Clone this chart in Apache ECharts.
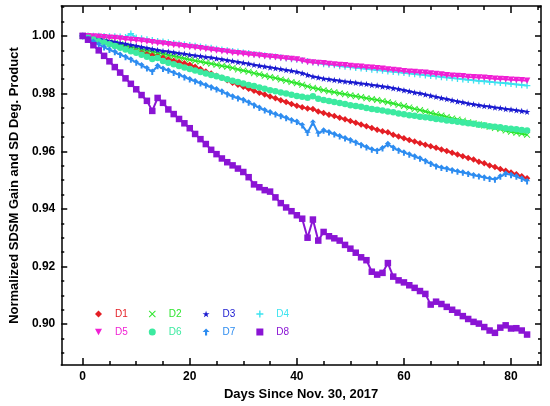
<!DOCTYPE html>
<html>
<head>
<meta charset="utf-8">
<script src="https://cdn.jsdelivr.net/npm/echarts@6/dist/echarts.min.js"></script>
<style>
html,body{margin:0;padding:0;background:#fff;}
#chart{width:550px;height:406px;}
</style>
</head>
<body>
<div id="chart"></div>
<script>
// ---- data ----
var seriesNames = ['D1','D2','D3','D4','D5','D6','D7','D8'];
var xMajorTicks = [0, 20, 40, 60, 80];
var yMajorTicks = [0.90, 0.92, 0.94, 0.96, 0.98, 1.00];
var xTitle = 'Days Since Nov. 30, 2017';
var yTitle = 'Normalized SDSM Gain and SD Deg. Product';

var days = [0,1,2,3,4,5,6,7,8,9,10,11,12,13,14,15,16,17,18,19,20,21,22,23,24,25,26,27,28,29,30,31,32,33,34,35,36,37,38,39,40,41,42,43,44,45,46,47,48,49,50,51,52,53,54,55,56,57,58,59,60,61,62,63,64,65,66,67,68,69,70,71,72,73,74,75,76,77,78,79,80,81,82,83];

var D1 = [1.0000,0.9995,0.9990,0.9984,0.9979,0.9973,0.9968,0.9963,0.9958,0.9953,0.9948,0.9944,0.9939,0.9934,0.9932,0.9925,0.9919,0.9914,0.9910,0.9905,
0.9900,0.9893,0.9885,0.9877,0.9870,0.9862,0.9855,0.9846,0.9838,0.9831,0.9824,0.9817,0.9810,0.9803,0.9797,0.9790,0.9784,0.9777,0.9771,0.9764,
0.9758,0.9753,0.9748,0.9747,0.9738,0.9733,0.9727,0.9722,0.9716,0.9711,0.9705,0.9699,0.9693,0.9687,0.9681,0.9675,0.9669,0.9666,0.9657,0.9651,
0.9645,0.9639,0.9634,0.9628,0.9623,0.9617,0.9612,0.9606,0.9601,0.9595,0.9589,0.9583,0.9577,0.9571,0.9564,0.9558,0.9551,0.9545,0.9538,0.9532,
0.9526,0.9520,0.9513,0.9506];

var D2 = [1.0000,0.9996,0.9992,0.9988,0.9983,0.9979,0.9975,0.9971,0.9967,0.9962,0.9958,0.9954,0.9950,0.9946,0.9942,0.9938,0.9934,0.9930,0.9926,0.9922,
0.9918,0.9914,0.9911,0.9907,0.9904,0.9900,0.9896,0.9893,0.9889,0.9884,0.9880,0.9876,0.9871,0.9867,0.9862,0.9858,0.9854,0.9849,0.9845,0.9840,
0.9836,0.9831,0.9825,0.9820,0.9816,0.9812,0.9808,0.9805,0.9801,0.9798,0.9794,0.9791,0.9788,0.9784,0.9781,0.9778,0.9774,0.9770,0.9766,0.9761,
0.9757,0.9752,0.9747,0.9743,0.9738,0.9733,0.9728,0.9724,0.9719,0.9714,0.9710,0.9706,0.9701,0.9697,0.9693,0.9689,0.9685,0.9681,0.9677,0.9672,
0.9668,0.9664,0.9661,0.9657];

var D3 = [1.0000,0.9997,0.9993,0.9990,0.9987,0.9983,0.9980,0.9976,0.9973,0.9969,0.9966,0.9962,0.9958,0.9955,0.9951,0.9948,0.9946,0.9943,0.9940,0.9938,
0.9935,0.9932,0.9930,0.9927,0.9925,0.9922,0.9919,0.9916,0.9913,0.9910,0.9907,0.9904,0.9900,0.9897,0.9894,0.9891,0.9888,0.9885,0.9882,0.9879,
0.9876,0.9871,0.9865,0.9859,0.9856,0.9852,0.9850,0.9847,0.9845,0.9842,0.9840,0.9838,0.9835,0.9833,0.9830,0.9828,0.9825,0.9823,0.9819,0.9816,
0.9812,0.9808,0.9804,0.9801,0.9797,0.9793,0.9789,0.9785,0.9781,0.9777,0.9773,0.9770,0.9766,0.9763,0.9760,0.9757,0.9755,0.9752,0.9750,0.9747,
0.9745,0.9742,0.9740,0.9737];

var D4 = [1.0000,1.0001,1.0000,1.0000,0.9999,0.9998,0.9998,0.9997,0.9996,1.0008,0.9994,0.9991,0.9988,0.9985,0.9982,0.9980,0.9977,0.9975,0.9972,0.9970,
0.9968,0.9965,0.9963,0.9960,0.9958,0.9955,0.9952,0.9950,0.9947,0.9945,0.9942,0.9940,0.9937,0.9935,0.9932,0.9930,0.9928,0.9925,0.9923,0.9920,
0.9918,0.9915,0.9912,0.9909,0.9906,0.9903,0.9901,0.9899,0.9896,0.9894,0.9892,0.9890,0.9888,0.9886,0.9884,0.9882,0.9880,0.9878,0.9876,0.9874,
0.9872,0.9870,0.9868,0.9866,0.9864,0.9862,0.9860,0.9858,0.9856,0.9854,0.9852,0.9850,0.9848,0.9846,0.9844,0.9843,0.9841,0.9839,0.9838,0.9836,
0.9834,0.9832,0.9830,0.9828];

var D5 = [1.0000,0.9999,0.9998,0.9997,0.9996,0.9994,0.9993,0.9991,0.9989,0.9987,0.9985,0.9983,0.9981,0.9978,0.9976,0.9974,0.9971,0.9969,0.9967,0.9964,
0.9962,0.9960,0.9957,0.9955,0.9952,0.9950,0.9947,0.9945,0.9942,0.9940,0.9938,0.9936,0.9934,0.9932,0.9930,0.9928,0.9926,0.9924,0.9922,0.9920,
0.9918,0.9914,0.9910,0.9908,0.9906,0.9905,0.9903,0.9901,0.9899,0.9898,0.9896,0.9894,0.9893,0.9891,0.9890,0.9888,0.9886,0.9884,0.9882,0.9880,
0.9878,0.9876,0.9875,0.9873,0.9872,0.9870,0.9868,0.9866,0.9864,0.9862,0.9861,0.9860,0.9858,0.9857,0.9856,0.9855,0.9853,0.9852,0.9851,0.9850,
0.9848,0.9847,0.9846,0.9845];

var D6 = [1.0000,0.9994,0.9988,0.9982,0.9977,0.9971,0.9965,0.9959,0.9953,0.9947,0.9942,0.9935,0.9928,0.9920,0.9924,0.9913,0.9907,0.9902,0.9896,0.9891,
0.9885,0.9880,0.9875,0.9870,0.9865,0.9860,0.9855,0.9850,0.9845,0.9840,0.9835,0.9830,0.9826,0.9821,0.9817,0.9812,0.9808,0.9804,0.9800,0.9796,
0.9792,0.9789,0.9786,0.9791,0.9782,0.9778,0.9774,0.9771,0.9767,0.9764,0.9760,0.9757,0.9754,0.9750,0.9747,0.9744,0.9741,0.9738,0.9735,0.9731,
0.9728,0.9725,0.9723,0.9720,0.9718,0.9715,0.9712,0.9710,0.9707,0.9705,0.9702,0.9700,0.9697,0.9695,0.9692,0.9690,0.9687,0.9685,0.9683,0.9680,
0.9678,0.9676,0.9674,0.9672];

var D7 = [1.0000,0.9990,0.9980,0.9970,0.9961,0.9952,0.9944,0.9935,0.9927,0.9918,0.9908,0.9898,0.9888,0.9876,0.9896,0.9886,0.9880,0.9872,0.9865,0.9857,
0.9850,0.9843,0.9836,0.9829,0.9822,0.9815,0.9807,0.9798,0.9790,0.9784,0.9778,0.9769,0.9760,0.9751,0.9742,0.9735,0.9728,0.9722,0.9715,0.9708,
0.9702,0.9690,0.9664,0.9700,0.9662,0.9672,0.9666,0.9659,0.9652,0.9645,0.9638,0.9630,0.9622,0.9614,0.9606,0.9602,0.9610,0.9625,0.9612,0.9603,
0.9596,0.9589,0.9582,0.9575,0.9566,0.9557,0.9548,0.9543,0.9539,0.9534,0.9530,0.9526,0.9522,0.9517,0.9513,0.9509,0.9505,0.9502,0.9512,0.9522,
0.9518,0.9512,0.9505,0.9496];

var D8 = [1.0000,0.9987,0.9968,0.9950,0.9931,0.9912,0.9892,0.9873,0.9853,0.9834,0.9815,0.9795,0.9775,0.9740,0.9785,0.9768,0.9745,0.9729,0.9712,0.9697,
0.9680,0.9660,0.9642,0.9625,0.9605,0.9590,0.9575,0.9562,0.9551,0.9540,0.9528,0.9510,0.9485,0.9475,0.9465,0.9460,0.9440,0.9420,0.9405,0.9392,
0.9378,0.9366,0.9300,0.9363,0.9290,0.9320,0.9305,0.9298,0.9290,0.9275,0.9262,0.9248,0.9232,0.9222,0.9182,0.9172,0.9178,0.9212,0.9165,0.9152,
0.9145,0.9135,0.9126,0.9115,0.9105,0.9068,0.9078,0.9070,0.9060,0.9050,0.9040,0.9028,0.9018,0.9008,0.9002,0.8990,0.8978,0.8970,0.8988,0.8996,
0.8985,0.8986,0.8978,0.8964];

var values = [D1, D2, D3, D4, D5, D6, D7, D8];

// ---- styling ----
var colors = ['#e41e24', '#2ee62e', '#1a1ad0', '#3ce4f0', '#f020d4', '#3ceaa0', '#2d8cf0', '#8a14d4'];
var symbols = [
  'diamond',
  'path://M1,0 L5,4 L9,0 L10,1 L6,5 L10,9 L9,10 L5,6 L1,10 L0,9 L4,5 L0,1 Z',
  'path://M5,0 L6.2,3.6 L10,3.6 L6.9,5.9 L8.1,9.5 L5,7.3 L1.9,9.5 L3.1,5.9 L0,3.6 L3.8,3.6 Z',
  'path://M4,0 L6,0 L6,4 L10,4 L10,6 L6,6 L6,10 L4,10 L4,6 L0,6 L0,4 L4,4 Z',
  'path://M0,0 L10,0 L5,9 Z',
  'circle',
  'path://M5,0 L10,5 L6.5,5 L6.5,10 L3.5,10 L3.5,5 L0,5 Z',
  'rect'
];

var xMinor = [], yMinor = [];
for (var t = 0; t <= 85; t += 5) { if (t % 20 !== 0) xMinor.push(t); }
for (var k = 178; k <= 202; k++) { if (k % 4 !== 0) yMinor.push(k * 0.005); }

var xMin = -4, xMax = 85.6, yMin = 0.8858, yMax = 1.0104;
var font = 'Liberation Sans, Arial, sans-serif';

function xAx(pos, ticks, len, showLine, showLabel) {
  return {
    type: 'value', position: pos, min: xMin, max: xMax,
    axisLine: { show: showLine, onZero: false, lineStyle: { color: '#000', width: 1.5 } },
    axisTick: { show: true, inside: true, length: len, customValues: ticks, lineStyle: { color: '#000', width: 1.5 } },
    axisLabel: showLabel ? { show: true, customValues: ticks, margin: 6, color: '#000', fontSize: 12, fontWeight: 'bold', fontFamily: font } : { show: false },
    splitLine: { show: false }
  };
}
function yAx(pos, ticks, len, showLine, showLabel) {
  return {
    type: 'value', position: pos, min: yMin, max: yMax,
    axisLine: { show: showLine, onZero: false, lineStyle: { color: '#000', width: 1.5 } },
    axisTick: { show: true, inside: true, length: len, customValues: ticks, lineStyle: { color: '#000', width: 1.5 } },
    axisLabel: showLabel ? { show: true, customValues: ticks, margin: 6, color: '#000', fontSize: 12, fontWeight: 'bold', fontFamily: font,
      formatter: function (v) { return v.toFixed(2); } } : { show: false },
    splitLine: { show: false }
  };
}

var xAxes = [xAx('bottom', xMajorTicks, 7, true, true), xAx('bottom', xMinor, 4, false, false),
             xAx('top', xMajorTicks, 7, true, false), xAx('top', xMinor, 4, false, false)];
xAxes[0].name = xTitle;
xAxes[0].nameLocation = 'middle';
xAxes[0].nameGap = 22;
xAxes[0].nameTextStyle = { color: '#000', fontSize: 13, fontWeight: 'bold', fontFamily: font };

var yAxes = [yAx('left', yMajorTicks, 6, true, true), yAx('left', yMinor, 3, false, false),
             yAx('right', yMajorTicks, 6, true, false), yAx('right', yMinor, 3, false, false)];
yAxes[0].name = yTitle;
yAxes[0].nameLocation = 'middle';
yAxes[0].nameGap = 33;
yAxes[0].nameTextStyle = { color: '#000', fontSize: 13, fontWeight: 'bold', fontFamily: font };

var series = seriesNames.map(function (n, i) {
  return {
    name: n, type: 'line', xAxisIndex: 0, yAxisIndex: 0,
    data: days.map(function (d, j) { return [d, values[i][j]]; }),
    symbol: symbols[i], symbolSize: 6.5, showAllSymbol: true,
    itemStyle: { color: colors[i] },
    lineStyle: { color: colors[i], width: 2 },
    animation: false, z: 2 + i
  };
});

function legendData(idx) {
  return idx.map(function (i) {
    return { name: seriesNames[i], icon: symbols[i], textStyle: { color: colors[i] } };
  });
}
var legendCommon = {
  orient: 'horizontal', left: 95, padding: 0, itemWidth: 7, itemHeight: 7, itemGap: 21,
  selectedMode: false,
  textStyle: { fontSize: 10, fontFamily: font, padding: [0, 0, 0, 8] }
};

var chart = echarts.init(document.getElementById('chart'), null, { renderer: 'canvas' });
chart.setOption({
  backgroundColor: '#fff',
  animation: false,
  grid: { left: 61, right: 9, top: 6, bottom: 35, containLabel: false },
  xAxis: xAxes,
  yAxis: yAxes,
  legend: [
    Object.assign({}, legendCommon, { top: 309, data: legendData([0, 1, 2, 3]) }),
    Object.assign({}, legendCommon, { top: 327, data: legendData([4, 5, 6, 7]) })
  ],
  series: series
});
</script>
</body>
</html>
